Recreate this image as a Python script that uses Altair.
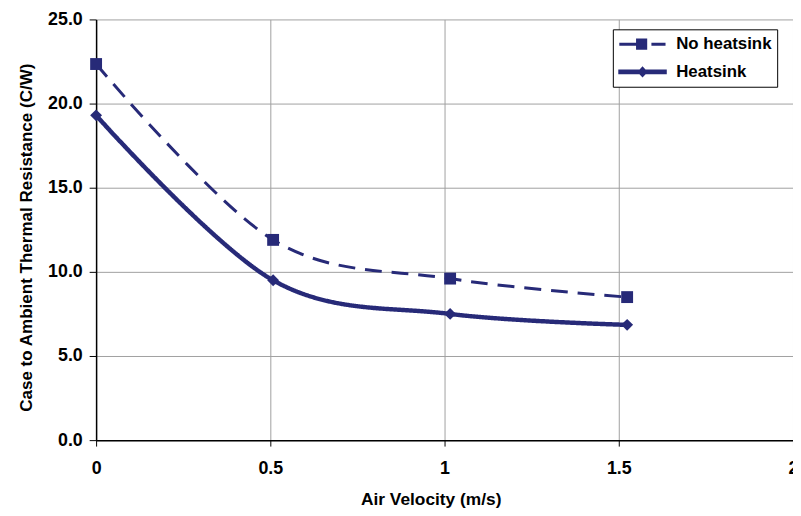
import altair as alt
import pandas as pd

# ---- data ----
velocity = [0, 0.508, 1.016, 1.524]
no_heatsink = [22.35, 11.9, 9.6, 8.5]
heatsink = [19.3, 9.5, 7.5, 6.85]
series_names = ["No heatsink", "Heatsink"]
x_ticks = [0, 0.5, 1, 1.5, 2]
y_ticks = [0, 5, 10, 15, 20, 25]

NAVY = "#272A78"
GRID = "#a0a0a0"
FONT = "Liberation Sans, Arial, sans-serif"
NBSP = "\u00a0"

rows = []
for v, a, b in zip(velocity, no_heatsink, heatsink):
    rows.append({"velocity": v, "resistance": a, "series": series_names[0]})
    rows.append({"velocity": v, "resistance": b, "series": series_names[1]})
df = pd.DataFrame(rows)

# legend symbols: line + marker drawn as filled custom paths
P_NO = ("M-1.02,-0.065H-0.25V0.065H-1.02Z"
        "M-0.285,-0.245H0.205V0.245H-0.285Z"
        "M0.39,-0.065H1.01V0.065H0.39Z")
P_HS = ("M-1.065,-0.1H1.065V0.1H-1.065Z"
        "M0,-0.25L0.23,0L0,0.25L-0.23,0Z")

legend = alt.Legend(
    title=None,
    orient="none",
    legendX=522,
    legendY=10,
    padding=5,
    strokeColor="black",
    fillColor="white",
    symbolSize=2116,
    symbolStrokeWidth=0,
    symbolFillColor=NAVY,
    symbolStrokeColor=NAVY,
    symbolOpacity=1,
    symbolOffset=2,
    clipHeight=20,
    rowPadding=8,
    labelOffset=11,
    labelExpr="datum.label + '" + NBSP * 3 + "'",
    labelFont=FONT,
    labelFontSize=17,
    labelFontWeight="bold",
    labelColor="black",
)

x_enc = alt.X(
    "velocity:Q",
    scale=alt.Scale(domain=[0, 2], nice=False, zero=False),
    axis=alt.Axis(
        values=x_ticks,
        format="~g",
        title="Air Velocity (m/s)",
        titleFont=FONT,
        titleFontSize=17.5,
        titleFontWeight="bold",
        titleColor="black",
        titleX=338,
        titleY=65,
        titleBaseline="alphabetic",
        labelFont=FONT,
        labelFontSize=18,
        labelFontWeight="bold",
        labelColor="black",
        labelPadding=14,
        tickSize=6,
        tickColor="black",
        domainColor="black",
        domainWidth=1.5,
        gridColor=GRID,
        gridWidth=1,
        labelFlush=False,
        labelOverlap=False,
    ),
)

y_enc = alt.Y(
    "resistance:Q",
    scale=alt.Scale(domain=[0, 25], nice=False),
    axis=alt.Axis(
        values=y_ticks,
        format=".1f",
        title="Case to Ambient Thermal Resistance (C/W)",
        titleFont=FONT,
        titleFontSize=17.2,
        titleFontWeight="bold",
        titleColor="black",
        titleX=-65,
        titleY=220,
        titleBaseline="alphabetic",
        labelFont=FONT,
        labelFontSize=18,
        labelFontWeight="bold",
        labelColor="black",
        labelPadding=7,
        tickSize=7,
        tickColor="black",
        domainColor="black",
        domainWidth=1.5,
        gridColor=GRID,
        gridWidth=1,
        labelFlush=False,
        labelOverlap=False,
    ),
)

base = alt.Chart(df)

lines = base.mark_line(interpolate="cardinal", color=NAVY).encode(
    x=x_enc,
    y=y_enc,
    strokeDash=alt.StrokeDash(
        "series:N",
        scale=alt.Scale(domain=series_names, range=[[17, 10], [1, 0]]),
        legend=None,
    ),
    strokeWidth=alt.StrokeWidth(
        "series:N",
        scale=alt.Scale(domain=series_names, range=[3, 4.5]),
        legend=None,
    ),
)

points = base.mark_point(filled=True, opacity=1, size=144, color=NAVY).encode(
    x=x_enc,
    y=y_enc,
    shape=alt.Shape(
        "series:N",
        scale=alt.Scale(domain=series_names, range=["square", "diamond"]),
        legend=None,
    ),
)

# legend-only layer (no rows survive the filter): carries the combined line+marker symbols
legend_layer = (
    base.mark_point(filled=True, opacity=1, color=NAVY)
    .encode(
        x=x_enc,
        y=y_enc,
        shape=alt.Shape(
            "series:N",
            scale=alt.Scale(domain=series_names, range=[P_NO, P_HS]),
            legend=legend,
        ),
    )
    .transform_filter("datum.resistance < 0")
)

chart = (
    alt.layer(lines, points, legend_layer)
    .resolve_scale(shape="independent")
    .properties(
        width=704,
        height=425,
        autosize=alt.AutoSizeParams(type="none"),
        padding={"left": 89, "top": 9, "right": 0, "bottom": 66},
        background="white",
    )
    .configure_view(stroke=None)
)

chart.save("out.html", embed_options={"renderer": "svg", "actions": False})
